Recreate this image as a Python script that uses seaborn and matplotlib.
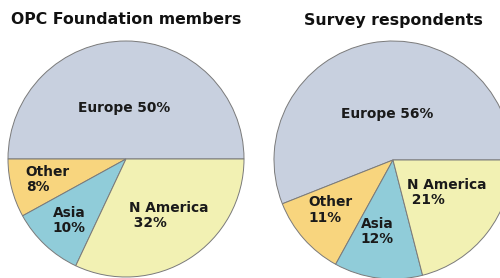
import matplotlib
matplotlib.use('Agg')
import matplotlib.pyplot as plt
import seaborn as sns

sns.set_theme(style='white')
plt.rcParams['font.family'] = ['DejaVu Sans']

# data
regions = ['Europe', 'Other', 'Asia', 'N America']
members = [50, 8, 10, 32]
respondents = [56, 11, 12, 21]
titles = ['OPC Foundation members', 'Survey respondents']
colors = ['#c8d0df', '#f8d57e', '#90ccd9', '#f2f1b3']

# label position (fraction of radius) and alignment for each pie
label_pos = [
    [(-0.02, 0.43, 'center'), (-0.85, -0.17, 'left'), (-0.62, -0.52, 'left'), (0.025, -0.48, 'left')],
    [(-0.05, 0.39, 'center'), (-0.71, -0.42, 'left'), (-0.27, -0.60, 'left'), (0.12, -0.27, 'left')],
]

W, H = 500, 278
fig = plt.figure(figsize=(5, 2.78), dpi=100)

# pie centres and radii in pixels (from top-left)
centres = [(126, 159, 118), (393, 160, 119)]

for i, (vals, (cx, cy, r)) in enumerate(zip([members, respondents], centres)):
    yb = H - cy
    ax = fig.add_axes([(cx - r) / W, (yb - r) / H, 2 * r / W, 2 * r / H])
    ax.pie(vals, colors=colors, startangle=0, counterclock=True,
           wedgeprops=dict(edgecolor='#7a7a7a', linewidth=0.7))
    ax.set_xlim(-1, 1)
    ax.set_ylim(-1, 1)
    ax.set_aspect('equal')
    ax.axis('off')
    for name, v, (lx, ly, ha) in zip(regions, vals, label_pos[i]):
        if name == 'Europe':
            txt = f'{name} {v}%'
        elif name == 'N America':
            txt = f'{name}\n {v}%'
        else:
            txt = f'{name}\n{v}%'
        ax.text(lx, ly, txt, ha=ha, va='center', fontsize=9.9,
                fontweight='bold', color='#1a1a1a', linespacing=1.1)
    fig.text(cx / W, 1 - 20 / H, titles[i], ha='center', va='center',
             fontsize=11.3, fontweight='bold', color='#111111')

fig.savefig('out.png', dpi=100)
